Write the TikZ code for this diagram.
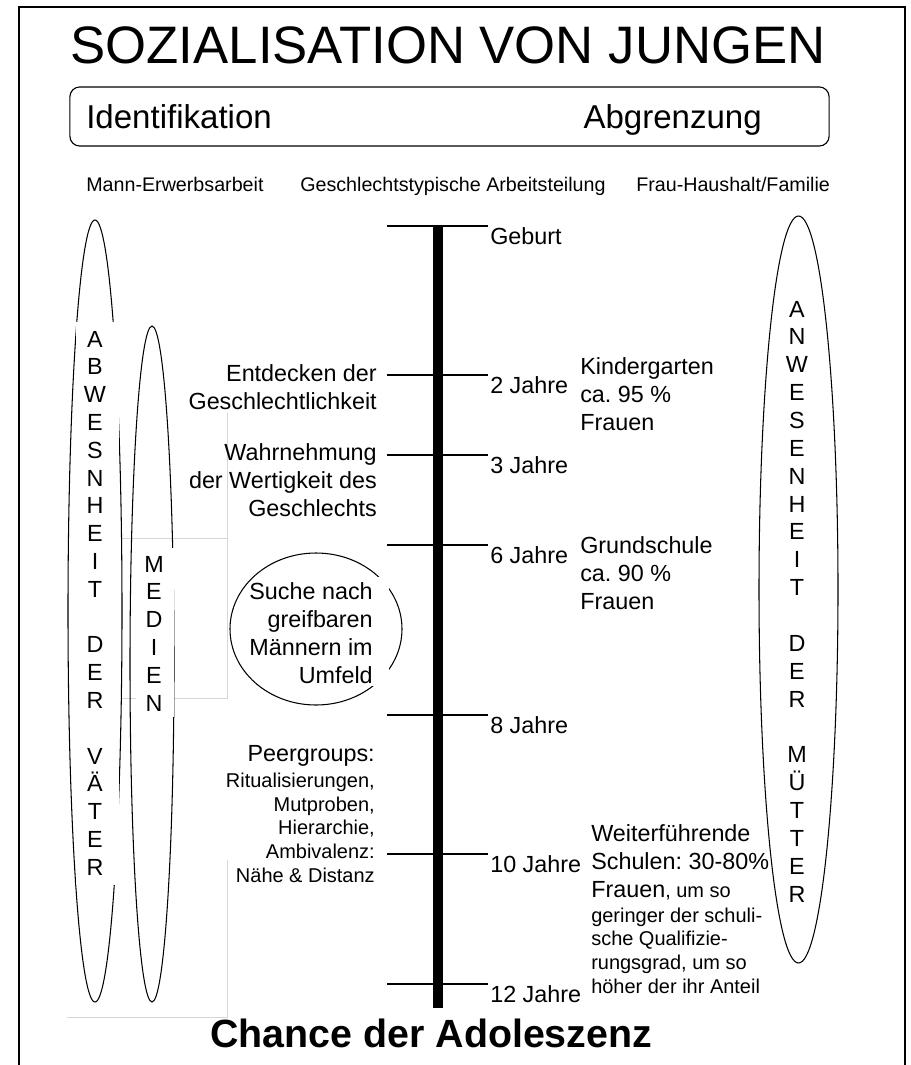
\documentclass[tikz,border=0pt]{standalone}
\usepackage{fontspec}
\setmainfont{Liberation Sans}
\frenchspacing
\usepackage{tikz}
\tikzset{
    %Define style for the outer frame
    rahmen/.style={
           line width=1.9pt},
    %Define style for the ovals
    oval/.style={
           draw=black, line width=0.75pt},
    %Define style for the faint lines
    hilfslinie/.style={
           draw=black!16, line width=0.7pt},
    %Define styles for text
    beschriftung/.style={
           inner sep=0pt,
           font=\fontsize{16.6}{19.7}\selectfont},
    klein/.style={
           inner sep=0pt,
           font=\fontsize{14.2}{16.8}\selectfont},
    unter/.style={
           inner sep=0pt, anchor=base west,
           font=\fontsize{14}{17}\selectfont},
    buchstabe/.style={
           inner sep=0pt, anchor=base,
           font=\fontsize{16.6}{19.7}\selectfont},
    alter/.style={
           beschriftung, anchor=base west},
    % Define style for the time line
    marke/.style={
           line width=0.9pt},
    achse/.style={
           line width=7.1pt}
}

\begin{document}
\begin{tikzpicture}[x=0.025cm,y=-0.025cm]
\useasboundingbox (0,0) rectangle (911,1065);
\draw[rahmen] (19,1065) -- (19,7) -- (905,7) -- (905,1065);

% heading
\node[anchor=base, inner sep=0pt, font=\fontsize{37.5}{45}\selectfont] (titel) at (448,63) {SOZIALISATION VON JUNGEN};
\node[draw, line width=0.8pt, rounded corners=7pt, minimum width=539.9pt, minimum height=42pt] (kasten) at (449.5,116.5) {};
\node[anchor=base west, inner sep=0pt, font=\fontsize{23.5}{28}\selectfont] (ident) at (86,128) {Identifikation};
\node[anchor=base east, inner sep=0pt, font=\fontsize{23.5}{28}\selectfont] (abgr) at (762,128) {Abgrenzung};
\node[unter] (mann) at (86,191) {Mann-Erwerbsarbeit};
\node[unter] (teilung) at (300,191) {Geschlechtstypische Arbeitsteilung};
\node[unter] (frau) at (636,191) {Frau-Haushalt/Familie};

% faint lines
\draw[hilfslinie] (227,413) -- (227,538);
\draw[hilfslinie] (122,538) -- (227,538) -- (227,698) -- (122,698);
\draw[hilfslinie] (227,860) -- (227,1017) -- (67,1017);

% time line
\foreach \y/\n/\t in {226/0/Geburt,375/2/2 Jahre,455/3/3 Jahre,545/6/6 Jahre,715/8/8 Jahre,854/10/10 Jahre,984/12/12 Jahre}{
  \coordinate (l\n) at (387,\y);
  \coordinate (r\n) at (488,\y);
  \draw[marke] (l\n) -- (r\n);
  \node[alter] (j\n) at (490,{\y+18}) {\t};
}
\coordinate (oben) at (438,226);
\coordinate (unten) at (438,1008);
\draw[achse] (oben) -- (unten);

% left side (base = last line)
\node[beschriftung, align=right, anchor=base east] (entdecken) at (377,409) {Entdecken der\\Geschlechtlichkeit};
\node[beschriftung, align=right, anchor=base east] (wahrnehmung) at (377,516) {Wahrnehmung\\der Wertigkeit des\\Geschlechts};
\draw[oval] (316,629) ellipse [x radius=86, y radius=76];
\fill[white] (263,577) rectangle (389,686);
\node[beschriftung, align=right, anchor=base east] (suche) at (373,683) {Suche nach\\greifbaren\\Männern im\\Umfeld};
\node[beschriftung, anchor=base east] (peer) at (375,761) {Peergroups:};
\node[klein, align=right, anchor=base east] (peerliste) at (375,882) {Ritualisierungen,\\Mutproben,\\Hierarchie,\\Ambivalenz:\\Nähe \& Distanz};

% right side
\node[beschriftung, align=left, anchor=base west] (kiga) at (580,430) {Kindergarten\\ca. 95 \%\\Frauen};
\node[beschriftung, align=left, anchor=base west] (grund) at (580,609) {Grundschule\\ca. 90 \%\\Frauen};
\node[beschriftung, align=left, anchor=base west] (weiter) at (591,897) {Weiterführende\\Schulen: 30-80\%\\Frauen{\fontsize{14.2}{16.8}\selectfont, um so}};
\node[klein, align=left, anchor=base west] (weiterklein) at (591,993) {geringer der schuli-\\sche Qualifizie-\\rungsgrad, um so\\höher der ihr Anteil};

% ovals with letters
\draw[oval] (95,611) ellipse [x radius=27, y radius=391];
\fill[white] (75.5,322) rectangle (119,885);
\foreach \c [count=\i] in {A,B,W,E,S,N,H,E,I,T,{},D,E,R,{},V,Ä,T,E,R}
  \node[buchstabe] (v\i) at (95,{347+27.8*(\i-1)}) {\c};
\draw[oval] (152,664) ellipse [x radius=22, y radius=338];
\fill[white] (136,548) rectangle (173.5,717);
\foreach \c [count=\i] in {M,E,D,I,E,N}
  \node[buchstabe] (m\i) at (154,{572+27.8*(\i-1)}) {\c};
\draw[oval] (798.5,589.5) ellipse [x radius=39.5, y radius=373.5];
\foreach \c [count=\i] in {A,N,W,E,S,E,N,H,E,I,T,{},D,E,R,{},M,Ü,T,T,E,R}
  \node[buchstabe] (u\i) at (797,{317+27.86*(\i-1)}) {\c};

\node[anchor=base west, inner sep=0pt, font=\bfseries\fontsize{28}{33}\selectfont] (chance) at (210,1047) {Chance der Adoleszenz};
\end{tikzpicture}
\end{document}
